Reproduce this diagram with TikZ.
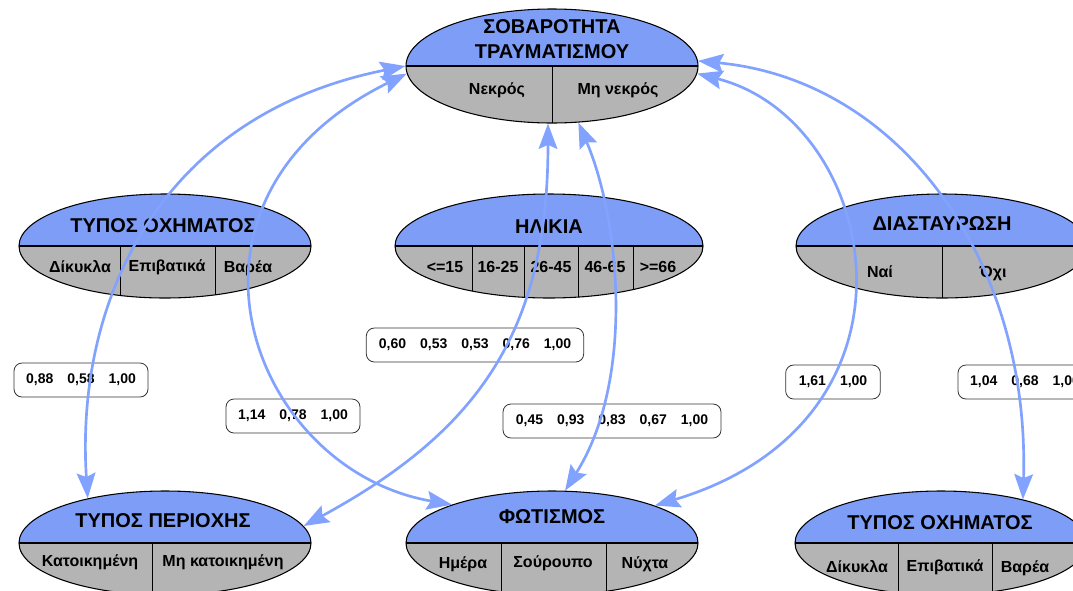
\documentclass[tikz,border=0pt]{standalone}
\usepackage{fontspec}
\setmainfont{Liberation Sans}
\usepackage{tikz}
\usetikzlibrary{shapes.geometric,arrows.meta}
\definecolor{azzurro}{HTML}{7E9DF7}
\definecolor{grigio}{HTML}{B4B4B4}
\definecolor{celeste}{HTML}{82A2FF}

\tikzset{
  rete/.style={ellipse, draw=black, line width=0.8pt, inner sep=0pt,
    minimum width=219pt, minimum height=78pt,
    path picture={
      \fill[azzurro] (path picture bounding box.north west) rectangle (path picture bounding box.east);
      \fill[grigio] (path picture bounding box.west) rectangle (path picture bounding box.south east);
      \draw[line width=0.8pt] (path picture bounding box.west) -- (path picture bounding box.east);
      \foreach \d in {#1}
        \draw[line width=0.6pt] ([xshift=\d*0.75pt]path picture bounding box.center) -- ([xshift=\d*0.75pt]path picture bounding box.south);
    }},
  titolo/.style={font=\fontsize{15}{18}\selectfont\bfseries, anchor=base, inner sep=0pt},
  voce/.style={font=\fontsize{12}{14}\selectfont\bfseries, anchor=base, inner sep=0pt},
  tab/.style={draw=black!80, line width=0.6pt, rounded corners=6pt, inner sep=0pt,
    minimum height=25.5pt, font=\fontsize{10.5}{12}\selectfont\bfseries},
  legame/.style={draw=celeste, line width=2pt,
    {Stealth[length=19pt,width=14pt,inset=3pt]}-{Stealth[length=19pt,width=14pt,inset=3pt]}}
}

\begin{document}
\begin{tikzpicture}[x=0.75pt,y=-0.75pt]
  \useasboundingbox (0,0) rectangle (1073,590);
  % nodi
  \node[rete={0}, minimum height=85.5pt] (sob) at (552,66) {};
  \node[rete={-45,50}] (oxl) at (165,246) {};
  \node[rete={-77,-25,29,84}, minimum width=231pt] (eta) at (549,246) {};
  \node[rete={0}] (inc) at (942,246) {};
  \node[rete={-13}] (per) at (165,543) {};
  \node[rete={-51,54}] (fot) at (552,543) {};
  \node[rete={-43,51}] (oxr) at (941,543) {};
  % etichette
  \node[titolo] (sob-t1) at (552,33) {ΣΟΒΑΡΟΤΗΤΑ};
  \node[titolo] (sob-t2) at (552,58) {ΤΡΑΥΜΑΤΙΣΜΟΥ};
  \node[voce] (sob-1) at (497,94) {Νεκρός};
  \node[voce] (sob-2) at (618,94) {Μη νεκρός};
  \node[titolo] (oxl-t) at (163,232) {ΤΥΠΟΣ ΟΧΗΜΑΤΟΣ};
  \node[voce] (oxl-1) at (80,272) {Δίκυκλα};
  \node[voce] (oxl-2) at (167,271) {Επιβατικά};
  \node[voce] (oxl-3) at (248,272) {Βαρέα};
  \node[titolo] (eta-t) at (549,233) {ΗΛΙΚΙΑ};
  \node[voce] (eta-1) at (445,272) {<=15};
  \node[voce] (eta-2) at (498,272) {16-25};
  \node[voce] (eta-3) at (551,272) {26-45};
  \node[voce] (eta-4) at (605,272) {46-65};
  \node[voce] (eta-5) at (658,272) {>=66};
  \node[titolo] (inc-t) at (942,230) {ΔΙΑΣΤΑΥΡΩΣΗ};
  \node[voce] (inc-1) at (880,277) {Ναί};
  \node[voce] (inc-2) at (993,277) {Όχι};
  \node[titolo] (per-t) at (163,527) {ΤΥΠΟΣ ΠΕΡΙΟΧΗΣ};
  \node[voce] (per-1) at (90,566) {Κατοικημένη};
  \node[voce] (per-2) at (223,566) {Μη κατοικημένη};
  \node[titolo] (fot-t) at (552,523) {ΦΩΤΙΣΜΟΣ};
  \node[voce] (fot-1) at (463,568) {Ημέρα};
  \node[voce] (fot-2) at (553,567) {Σούρουπο};
  \node[voce] (fot-3) at (645,568) {Νύχτα};
  \node[titolo] (oxr-t) at (940,529) {ΤΥΠΟΣ ΟΧΗΜΑΤΟΣ};
  \node[voce] (oxr-1) at (857,572) {Δίκυκλα};
  \node[voce] (oxr-2) at (945,571) {Επιβατικά};
  \node[voce] (oxr-3) at (1025,572) {Βαρέα};
  % tabelle
  \node[tab, minimum width=100.5pt] (t1) at (81,380) {0,88\quad 0,58\quad 1,00};
  \node[tab, minimum width=100.5pt] (t2) at (293,416) {1,14\quad 0,78\quad 1,00};
  \node[tab, minimum width=163pt] (t3) at (475,345) {0,60\quad 0,53\quad 0,53\quad 0,76\quad 1,00};
  \node[tab, minimum width=163.5pt] (t4) at (612,421) {0,45\quad 0,93\quad 0,83\quad 0,67\quad 1,00};
  \node[tab, minimum width=71pt] (t5) at (833,382) {1,61\quad 1,00};
  \node[tab, minimum width=100.5pt] (t6) at (1025,382) {1,04\quad 0,68\quad 1,00};
  % archi
  \draw[legame] (per.150) .. controls (75,300) and (160,115) .. (sob.180);
  \draw[legame] (fot.159) .. controls (250,470) and (150,200) .. (sob.183);
  \draw[legame] (per.7) .. controls (480,430) and (548,330) .. (sob.-94);
  \draw[legame] (fot.76) .. controls (635,380) and (620,220) .. (sob.-65);
  \draw[legame] (fot.20) .. controls (940,420) and (880,120) .. (sob.-3);
  \draw[legame] (oxr.28) .. controls (1030,260) and (900,80) .. (sob.2);
\end{tikzpicture}
\end{document}
